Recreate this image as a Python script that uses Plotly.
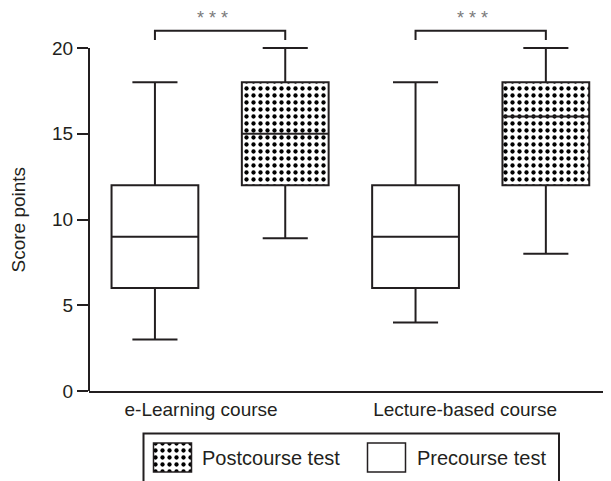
import plotly.graph_objects as go

# ---- data ----
groups = ["e-Learning course", "Lecture-based course"]
series = ["Postcourse test", "Precourse test"]
pre_min = [3, 4]
pre_q1 = [6, 6]
pre_med = [9, 9]
pre_q3 = [12, 12]
pre_max = [18, 18]
post_min = [8.9, 8]
post_q1 = [12, 12]
post_med = [15, 16]
post_q3 = [18, 18]
post_max = [20, 20]
significance = ["***", "***"]
y_ticks = [0, 5, 10, 15, 20]

# ---- style ----
INK = "#231f20"
FONT = "Liberation Sans"
BOX_W = 0.333
CAP_W = 0.173
OFF = 0.25
PATTERN = dict(shape=".", size=7, solidity=0.3, fgcolor="#000000", bgcolor="white")

fig = go.Figure()


def add_boxes(offset, mins, q1s, meds, q3s, maxs, patterned, name):
    xs = [i + offset for i in range(len(groups))]
    marker = dict(color="white", line=dict(color=INK, width=2))
    if patterned:
        marker["pattern"] = PATTERN
    fig.add_trace(go.Bar(
        x=xs, base=q1s, y=[q3 - q1 for q1, q3 in zip(q1s, q3s)],
        width=[BOX_W] * len(xs), marker=marker, name=name, showlegend=False,
        xaxis="x", yaxis="y"))
    lx, ly = [], []
    for c, mn, q1, md, q3, mx in zip(xs, mins, q1s, meds, q3s, maxs):
        lx += [c - BOX_W / 2, c + BOX_W / 2, None]
        ly += [md, md, None]
        lx += [c, c, None, c - CAP_W / 2, c + CAP_W / 2, None]
        ly += [q3, mx, None, mx, mx, None]
        lx += [c, c, None, c - CAP_W / 2, c + CAP_W / 2, None]
        ly += [q1, mn, None, mn, mn, None]
    fig.add_trace(go.Scatter(x=lx, y=ly, mode="lines",
                             line=dict(color=INK, width=2),
                             showlegend=False, hoverinfo="skip",
                             xaxis="x", yaxis="y"))


add_boxes(-OFF, pre_min, pre_q1, pre_med, pre_q3, pre_max, False, series[1])
add_boxes(OFF, post_min, post_q1, post_med, post_q3, post_max, True, series[0])

# significance brackets
bx, by = [], []
for i in range(len(groups)):
    bx += [i - OFF, i - OFF, i + OFF, i + OFF, None]
    by += [20.47, 21.0, 21.0, 20.47, None]
fig.add_trace(go.Scatter(x=bx, y=by, mode="lines", line=dict(color=INK, width=2),
                         showlegend=False, hoverinfo="skip", xaxis="x", yaxis="y"))
for i, s in enumerate(significance):
    fig.add_annotation(x=i - 0.03, y=21.75, xref="x", yref="y", text=" ".join(s),
                       showarrow=False, font=dict(family=FONT, size=18, color="#7a7a7a"))

# ---- manual legend (helper axes x2/y2 in page-pixel units) ----
sw_x = [172.5, 386.5]
fig.add_trace(go.Bar(x=[sw_x[0]], base=[443], y=[29], width=[38],
                     marker=dict(color="white", line=dict(color=INK, width=1.5), pattern=PATTERN),
                     showlegend=False, hoverinfo="skip", xaxis="x2", yaxis="y2"))
fig.add_trace(go.Bar(x=[sw_x[1]], base=[443], y=[29], width=[38],
                     marker=dict(color="white", line=dict(color=INK, width=1.5)),
                     showlegend=False, hoverinfo="skip", xaxis="x2", yaxis="y2"))
fig.add_annotation(x=200, y=458, xref="x2", yref="y2", text=series[0], showarrow=False,
                   xanchor="left", yanchor="middle", font=dict(family=FONT, size=20, color=INK))
fig.add_annotation(x=415, y=458, xref="x2", yref="y2", text=series[1], showarrow=False,
                   xanchor="left", yanchor="middle", font=dict(family=FONT, size=20, color=INK))
fig.add_shape(type="path", xref="x2", yref="y2",
              path="M 143.5 500 L 143.5 433.5 L 559 433.5 L 559 500",
              line=dict(color=INK, width=2))

# y-axis line (stops at 20)
fig.add_shape(type="line", xref="paper", yref="y", x0=0, x1=0, y0=0, y1=20,
              line=dict(color=INK, width=2))

# y title
fig.add_annotation(x=-0.136, y=10, xref="paper", yref="y", text="Score points",
                   textangle=-90, showarrow=False, xanchor="center", yanchor="middle",
                   font=dict(family=FONT, size=19, color=INK))

# page body has an 8px margin: figure pixel = page pixel - 8
PX_PER_UNIT = 17.15
PLOT_H = 383
DOM = (481 - PLOT_H) / 481
fig.update_layout(
    template="none",
    width=611, height=481,
    margin=dict(l=81, r=8, t=0, b=0, autoexpand=False),
    paper_bgcolor="white", plot_bgcolor="white",
    barmode="overlay",
    showlegend=False,
    font=dict(family=FONT, color=INK),
    xaxis=dict(domain=[0, 1], range=[-0.503, 1.5], anchor="y", automargin=False,
               showgrid=False, zeroline=False, showline=True, linecolor=INK, linewidth=2,
               ticks="", tickvals=[-0.073, 0.94], ticktext=groups,
               tickfont=dict(family=FONT, size=19, color=INK)),
    yaxis=dict(domain=[DOM, 1], range=[0, PLOT_H / PX_PER_UNIT], anchor="x", automargin=False,
               showgrid=False, zeroline=False, showline=False,
               ticks="outside", ticklen=11, tickwidth=2, tickcolor=INK,
               tickvals=y_ticks, ticktext=[str(v) for v in y_ticks],
               tickfont=dict(family=FONT, size=19, color=INK)),
    xaxis2=dict(domain=[0, 1], range=[89, 611], anchor="y2", visible=False, automargin=False),
    yaxis2=dict(domain=[0, DOM], range=[489, 391], anchor="x2", visible=False, automargin=False),
)

fig.write_html("out.html")
